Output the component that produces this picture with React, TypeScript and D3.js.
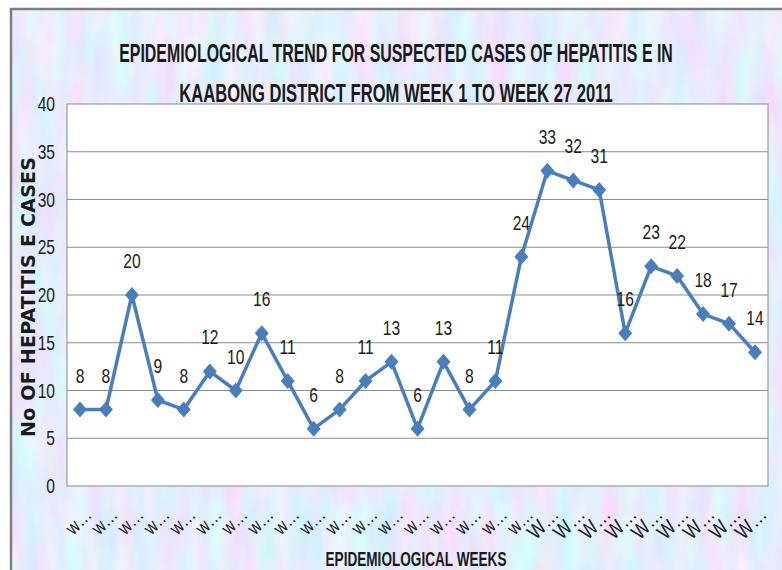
import * as d3 from 'd3'
import React from 'react'

// weekly counts, week 1 .. week 27
const weeks = d3.range(1, 28).map(w => 'Week ' + w)
const cases = [8, 8, 20, 9, 8, 12, 10, 16, 11, 6, 8, 11, 13, 6, 13, 8, 11, 24, 33, 32, 31, 16, 23, 22, 18, 17, 14]
const yTicks = [0, 5, 10, 15, 20, 25, 30, 35, 40]
const titleLines = [
  'EPIDEMIOLOGICAL TREND FOR SUSPECTED CASES OF HEPATITIS E IN',
  'KAABONG DISTRICT FROM WEEK 1 TO WEEK 27 2011',
]

const width = 782
const height = 570
const plot = { left: 67, right: 768, top: 104, bottom: 486 }
const sans = '"Liberation Sans", Arial, sans-serif'
const blue = '#4a7ebb'

// text squeezed horizontally, to look like the condensed office font
function Narrow(props: { x: number, y: number, sx?: number, rot?: number, anchor?: string, size: number, bold?: boolean, children: any }) {
  const { x, y, sx = 0.78, rot = 0, anchor = 'middle', size, bold } = props
  return (
    <text transform={`translate(${x},${y}) rotate(${rot}) scale(${sx},1)`} textAnchor={anchor}
      fontFamily={sans} fontSize={size} fontWeight={bold ? 'bold' : 'normal'} fill="#1a1a1a">
      {props.children}
    </text>
  )
}

export default function App() {
  const x = d3.scaleBand<string>().domain(weeks).range([plot.left, plot.right])
  const y = d3.scaleLinear().domain([0, 40]).range([plot.bottom, plot.top])
  const cx = (i: number) => (x(weeks[i]) as number) + x.bandwidth() / 2

  const line = d3.line<number>()
    .x((d, i) => cx(i))
    .y(d => y(d))

  const diamond = (px: number, py: number) =>
    `M${px},${py - 8}L${px + 7},${py}L${px},${py + 8}L${px - 7},${py}Z`

  return (
    <svg width={width} height={height} style={{ position: 'absolute', left: 0, top: 0, background: '#fff' }}>
      <defs>
        <filter id="paper" x="0" y="0" width="100%" height="100%">
          <feTurbulence type="fractalNoise" baseFrequency="0.045 0.012" numOctaves="3" seed="7" />
          <feColorMatrix type="matrix" values="0.55 0 0 0 0.52  -0.25 0.3 0 0 0.82  0 0 0.1 0 0.93  0 0 0 0 1" />
        </filter>
      </defs>

      {/* textured chart area */}
      <rect x={11} y={9} width={width} height={height} filter="url(#paper)" />
      <rect x={11} y={9} width={width + 20} height={height + 20} fill="none" stroke="#7f7f7f" strokeWidth={2.5} />

      {/* plot area */}
      <rect x={plot.left} y={plot.top} width={plot.right - plot.left} height={plot.bottom - plot.top}
        fill="#fff" stroke="#9a9a9a" strokeWidth={1.2} />
      {yTicks.map(t => (
        <g key={t}>
          {t > 0 && t < 40 && (
            <line x1={plot.left} x2={plot.right} y1={y(t)} y2={y(t)} stroke="#8c8c8c" strokeWidth={1} />
          )}
          <Narrow x={55} y={y(t) + 7} anchor="end" size={20}>{t}</Narrow>
        </g>
      ))}

      {/* series */}
      <path d={line(cases) as string} fill="none" stroke={blue} strokeWidth={3.5} strokeLinejoin="round" />
      {cases.map((v, i) => (
        <path key={'m' + i} d={diamond(cx(i), y(v))} fill={blue} />
      ))}
      {cases.map((v, i) => (
        <Narrow key={'l' + i} x={cx(i)} y={y(v) - 27} size={20}>{v}</Narrow>
      ))}

      {/* category labels, truncated like the original */}
      {weeks.map((w, i) => (
        <Narrow key={w} x={cx(i) + 13} y={516} rot={-45} sx={0.85} anchor="end" size={i < 18 ? 19 : 21}>
          {(i < 18 ? 'w' : 'W') + '\u2026'}
        </Narrow>
      ))}

      {/* titles */}
      {titleLines.map((t, i) => (
        <Narrow key={t} x={396} y={62 + i * 40} sx={i === 0 ? 0.636 : 0.663} size={25} bold>{t}</Narrow>
      ))}
      <text transform="translate(35,297) rotate(-90)" textAnchor="middle" fontFamily="DejaVu Sans, sans-serif"
        fontWeight="bold" fontSize={19} fill="#1a1a1a" textLength={280} lengthAdjust="spacing">
        No OF HEPATITIS E CASES
      </text>
      <Narrow x={416} y={566} sx={0.68} size={20} bold>EPIDEMIOLOGICAL WEEKS</Narrow>
    </svg>
  )
}
